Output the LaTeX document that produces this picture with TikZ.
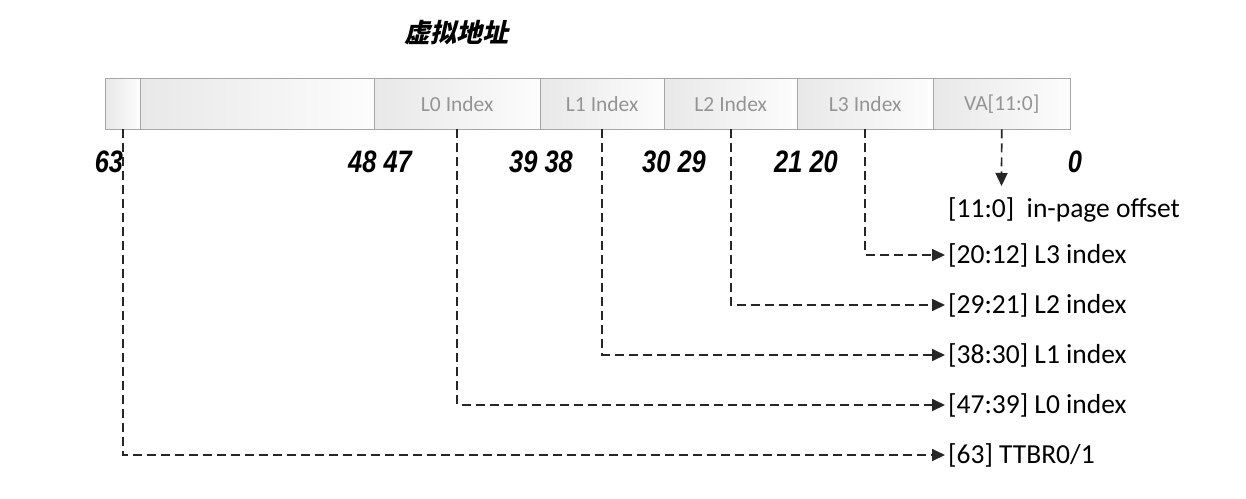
\documentclass[tikz,border=0pt]{standalone}
\usepackage{fontspec}
\setmainfont{Carlito}
\newfontfamily\cjktitle[FakeSlant=0.22]{Noto Sans CJK SC}
\newfontfamily\bitfont[FakeStretch=0.82]{Liberation Sans}
\usetikzlibrary{arrows.meta,positioning}
\newcommand{\vacell}[4]{\node[vacell,minimum width=#3] (#1) at (#2,78) {#4};}

\begin{document}
\begin{tikzpicture}[x=1pt,y=-1pt,>={Triangle[length=13pt,width=12pt]},
  vacell/.style={draw=black!35,left color=black!9,right color=black!1,minimum height=51pt,
    inner sep=0pt,anchor=north west,text=black!42,font=\fontsize{21.5}{25}\selectfont},
  bitnum/.style={font=\bitfont\bfseries\itshape\fontsize{31}{35}\selectfont,inner sep=0pt},
  idxlabel/.style={anchor=west,inner sep=3pt,font=\fontsize{27.5}{32}\selectfont},
  dline/.style={draw=black!85,line width=1.7pt,dash pattern=on 9pt off 5pt}]
\useasboundingbox (0,0) rectangle (1246,498);
\node[font=\cjktitle\bfseries\fontsize{26}{30}\selectfont] (title) at (456,33) {虚拟地址};
\vacell{c63}{105}{35pt}{}
\vacell{rsv}{140}{234pt}{}
\vacell{lzero}{374}{166pt}{L0 Index}
\vacell{lone}{540}{124pt}{L1 Index}
\vacell{ltwo}{664}{133pt}{L2 Index}
\vacell{lthree}{797}{136pt}{L3 Index}
\vacell{va}{933}{137pt}{VA[11:0]}
\node[bitnum] (b63) at (109,162) {63};
\node[bitnum] (b48) at (380,162) {48 47};
\node[bitnum] (b39) at (541,162) {39 38};
\node[bitnum] (b30) at (674,162) {30 29};
\node[bitnum] (b21) at (806,162) {21 20};
\node[bitnum] (b0) at (1075,162) {0};
\node[idxlabel] (off) at (945,210) {[11:0]~ in-page offset};
\node[idxlabel] (ithree) at (945,255) {[20:12] L3 index};
\node[idxlabel] (itwo) at (945,305) {[29:21] L2 index};
\node[idxlabel] (ione) at (945,355) {[38:30] L1 index};
\node[idxlabel] (izero) at (945,405) {[47:39] L0 index};
\node[idxlabel] (ittbr) at (945,455) {[63] TTBR0/1};
\coordinate (offtip) at (1001.5,186);
\draw[dline,->] (va.south) -- (offtip);
\draw[dline,->] (lthree.south) |- (ithree.west);
\draw[dline,->] (ltwo.south) |- (itwo.west);
\draw[dline,->] (lone.south) |- (ione.west);
\draw[dline,->] (lzero.south) |- (izero.west);
\draw[dline,->] (c63.south) |- (ittbr.west);
\end{tikzpicture}
\end{document}
